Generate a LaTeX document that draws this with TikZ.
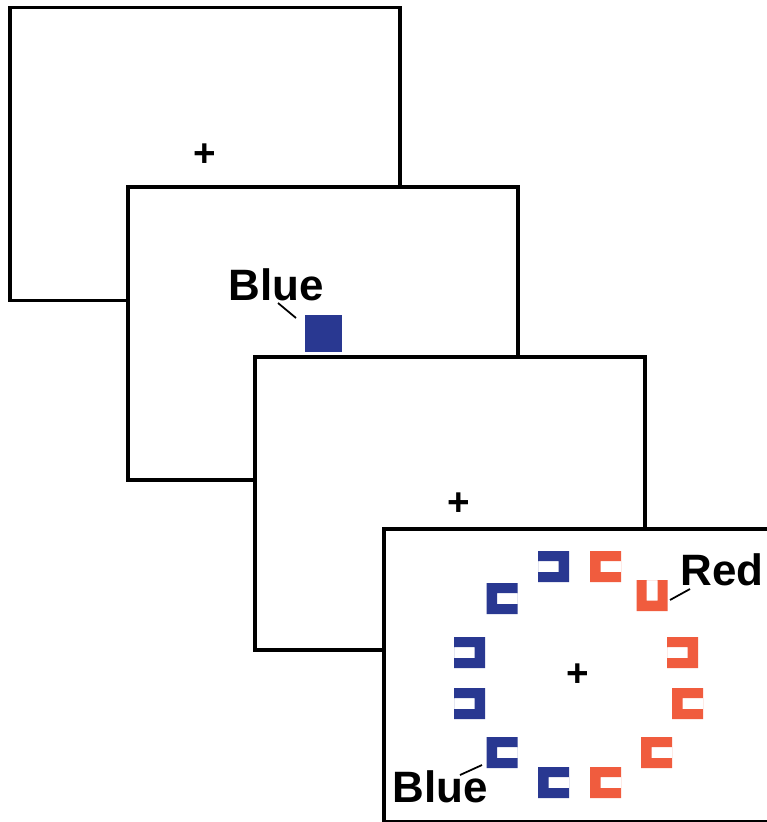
\documentclass[tikz,border=0pt]{standalone}
\usepackage{fontspec}
\setmainfont{Liberation Sans}
\usepackage{xcolor}
\usepackage{tikz}
\definecolor{cueblue}{RGB}{41,56,145}
\definecolor{cuered}{RGB}{240,92,62}
\tikzset{
  screen/.style={rectangle, draw=black, fill=white, line width=2pt, minimum width=7.8cm, minimum height=5.86cm, inner sep=0pt},
  fixcross/.style={font=\bfseries\fontsize{22}{22}\selectfont, inner sep=0pt},
  word/.style={font=\bfseries\fontsize{25}{25}\selectfont, inner sep=0pt, anchor=base},
  pointer/.style={line width=1pt},
  gapsq/.pic={\fill[even odd rule] (-15.5,-15.5) rectangle (15.5,15.5) (-5,-5.5) rectangle (15.5,5.5);}
}

\begin{document}
\begin{tikzpicture}[x=0.02cm, y=-0.02cm]
        \useasboundingbox (0,0) rectangle (767,822);

        \node[screen] (s1) at (205, 154) {};
        \node[fixcross] (f1) at (205, 155) {+};

        \node[screen] (s2) at (323, 333.5) {};
        \node[rectangle, fill=cueblue, minimum size=0.74cm, inner sep=0pt] (cue) at (323.5, 333.5) {};
        \node[word] (w1) at (276, 300) {Blue};
        \coordinate (a1) at (278, 303);
        \coordinate (b1) at (296, 318);
        \draw[pointer] (a1) -- (b1);

        \node[screen] (s3) at (450, 503.5) {};
        \node[fixcross] (f3) at (459, 504) {+};

        \node[screen] (s4) at (579, 675.5) {};
        \node[fixcross] (f4) at (578, 675) {+};

        \foreach \x/\y/\r in {553.5/566.5/180, 502/598.5/0, 469.5/652.5/180,
          469.5/703.5/180, 502/752.5/0, 553.5/782.5/0}
        \pic[cueblue, rotate=\r] at (\x, \y) {gapsq};

        \foreach \x/\y/\r in {605.5/566.5/0, 652/595.5/90, 682.5/652.5/180,
          687.5/703.5/0, 656.5/752.5/0, 605.5/782.5/0}
        \pic[cuered, rotate=\r] at (\x, \y) {gapsq};

        \node[word] (w2) at (722, 585) {Red};
        \coordinate (a2) at (690, 589);
        \coordinate (b2) at (670, 600);
        \draw[pointer] (a2) -- (b2);

        \node[word] (w3) at (440, 802) {Blue};
        \coordinate (a3) at (460, 775);
        \coordinate (b3) at (482, 765);
        \draw[pointer] (a3) -- (b3);
      \end{tikzpicture}
\end{document}
